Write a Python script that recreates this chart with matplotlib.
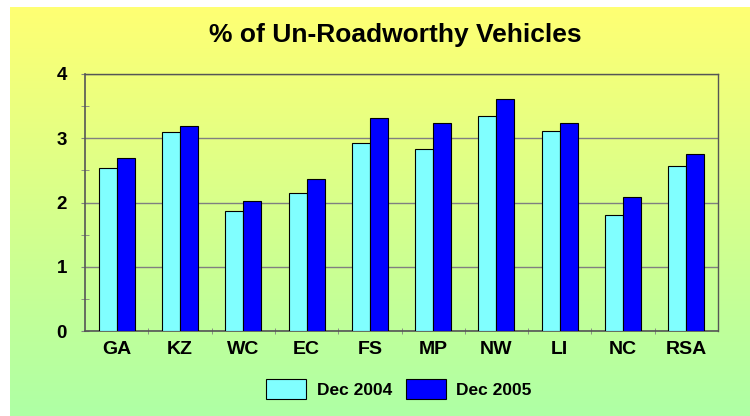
import matplotlib.pyplot as plt
import numpy as np

plt.rcParams['font.family'] = ['Liberation Sans', 'DejaVu Sans']

regions = ['GA', 'KZ', 'WC', 'EC', 'FS', 'MP', 'NW', 'LI', 'NC', 'RSA']
dec_2004 = [2.54, 3.10, 1.86, 2.15, 2.93, 2.84, 3.34, 3.12, 1.80, 2.57]
dec_2005 = [2.70, 3.19, 2.02, 2.36, 3.31, 3.23, 3.61, 3.23, 2.09, 2.76]

W, H = 750, 416
fig = plt.figure(figsize=(7.5, 4.16), dpi=100)

# gradient background (yellow top -> light green bottom), white strip top/left
bg = fig.add_axes([0, 0, 1, 1], zorder=-10)
bg.set_axis_off()
top = np.array([255, 255, 115]) / 255
bot = np.array([174, 255, 165]) / 255
t = np.linspace(0, 1, 256)[:, None, None]
grad = top * (1 - t) + bot * t
grad = np.repeat(grad, 2, axis=1)
bg.set_xlim(0, W)
bg.set_ylim(H, 0)
bg.imshow(grad, extent=[10, W, H, 7], aspect='auto')

ax = fig.add_axes([85 / W, 1 - 331 / H, (718 - 85) / W, (331 - 74) / H])
ax.set_facecolor('none')

x = np.arange(len(regions))
w = 0.285
ax.bar(x - w / 2, dec_2004, w, color='#80FFFF', edgecolor='black', linewidth=0.8,
       label='Dec 2004', zorder=3)
ax.bar(x + w / 2, dec_2005, w, color='#0000FF', edgecolor='black', linewidth=0.8,
       label='Dec 2005', zorder=3)

ax.set_xlim(-0.5, len(regions) - 0.5)
ax.set_ylim(0, 4)
ax.set_yticks([0, 1, 2, 3, 4])
ax.set_yticks([0.5, 1.5, 2.5, 3.5], minor=True)
ax.set_yticklabels(['0', '1', '2', '3', '4'], fontsize=13.5, fontweight='bold')
ax.set_xticks(x)
ax.set_xticklabels(regions, fontsize=14, fontweight='bold')
ax.set_xticks(np.arange(0.5, len(regions) - 0.5, 1), minor=True)
ax.tick_params(axis='x', which='major', length=0, pad=7)
ax.tick_params(axis='x', which='minor', length=5, direction='inout', color='#808080')
ax.tick_params(axis='y', which='both', length=6, direction='inout', color='#808080')
ax.tick_params(axis='y', which='major', pad=10)
ax.grid(axis='y', color='#808080', linewidth=1, zorder=0)

for s in ['left', 'bottom']:
    ax.spines[s].set_color('#555555')
    ax.spines[s].set_linewidth(1.2)
for s in ['top', 'right']:
    ax.spines[s].set_color('#555555')
    ax.spines[s].set_linewidth(1)

fig.text(395 / W, 1 - 35 / H, '% of Un-Roadworthy Vehicles', ha='center', va='center',
         fontsize=19, fontweight='bold')

leg = ax.legend(loc='center', bbox_to_anchor=(399 / W, 1 - 389 / H),
                bbox_transform=fig.transFigure, ncol=2, frameon=False,
                prop={'size': 12.5, 'weight': 'bold'}, handlelength=2.3,
                handleheight=1.4, columnspacing=0.8, handletextpad=0.6)

fig.savefig('out.png', dpi=100)
